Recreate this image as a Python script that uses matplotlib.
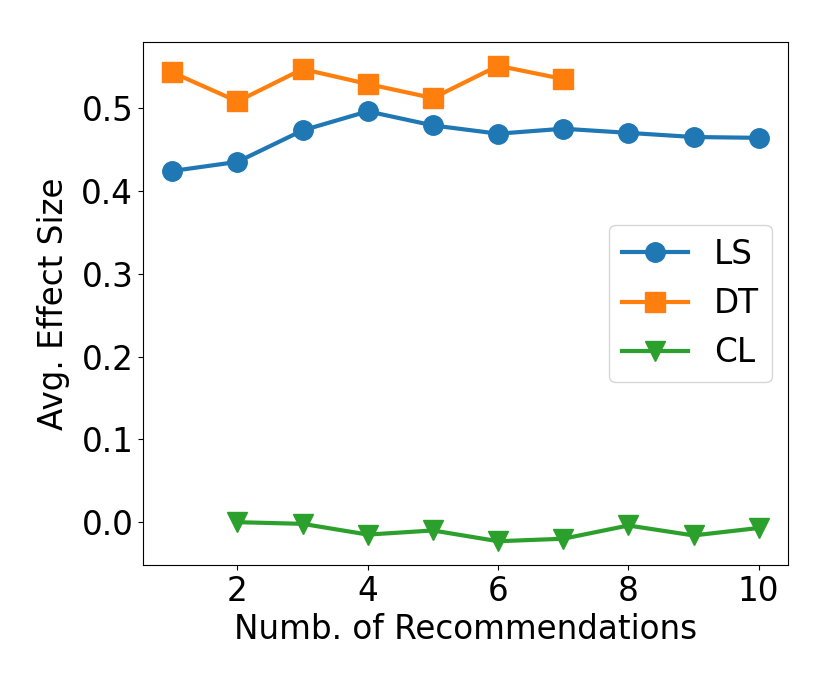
import matplotlib
matplotlib.use("Agg")
import matplotlib.pyplot as plt

x_ls = [1, 2, 3, 4, 5, 6, 7, 8, 9, 10]
ls = [0.424, 0.435, 0.473, 0.496, 0.479, 0.469, 0.475, 0.470, 0.465, 0.464]
x_dt = [1, 2, 3, 4, 5, 6, 7]
dt = [0.543, 0.508, 0.547, 0.529, 0.512, 0.551, 0.535]
x_cl = [2, 3, 4, 5, 6, 7, 8, 9, 10]
cl = [0.0, -0.002, -0.015, -0.010, -0.023, -0.020, -0.004, -0.016, -0.007]

fig = plt.figure(figsize=(8.3, 6.92), dpi=100)
ax = fig.add_axes([143/830, 1-565/692, (788-143)/830, (565-42)/692])
ax.plot(x_ls, ls, marker='o', color='#1f77b4', lw=3, ms=14, label='LS')
ax.plot(x_dt, dt, marker='s', color='#ff7f0e', lw=3, ms=14, label='DT')
ax.plot(x_cl, cl, marker='v', color='#2ca02c', lw=3, ms=14, label='CL')
ax.set_xticks([2, 4, 6, 8, 10])
ax.set_yticks([0.0, 0.1, 0.2, 0.3, 0.4, 0.5])
ax.tick_params(labelsize=23.5)
ax.set_xlabel('Numb. of Recommendations', fontsize=23.5)
ax.set_ylabel('Avg. Effect Size', fontsize=23.5, labelpad=8)
ax.legend(fontsize=23.5, loc='center right')
fig.savefig('out.png', dpi=100)
